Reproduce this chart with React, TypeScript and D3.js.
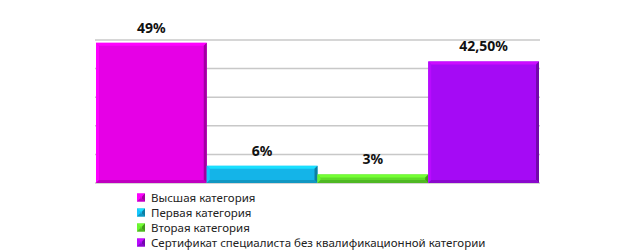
import React from "react";
import * as d3 from "d3";

const categories = ["Высшая категория", "Первая категория", "Вторая категория", "Сертификат специалиста без квалификационной категории"];
const values = [49, 6, 3, 42.5];
const labels = ["49%", "6%", "3%", "42,50%"];
const colors = ["#E600E6", "#14B4E8", "#5EDC2A", "#A50AF5"];
const yTicks = [0, 10, 20, 30, 40, 50];

const W = 621, H = 251;
const plot = { left: 96, right: 539, top: 40, bottom: 183 };

function Bar({ x, y, w, h, color }: { x: number; y: number; w: number; h: number; color: string }) {
  const b = Math.min(3, h / 2);
  const c = d3.color(color)!;
  const light = c.brighter(0.6).formatHex();
  const dark = c.darker(1).formatHex();
  const mid = c.darker(0.5).formatHex();
  return (
    <g>
      <rect x={x} y={y} width={w} height={h} fill={color} />
      <polygon points={`${x},${y} ${x + w},${y} ${x + w - b},${y + b} ${x + b},${y + b}`} fill={light} />
      <polygon points={`${x},${y} ${x + b},${y + b} ${x + b},${y + h - b} ${x},${y + h}`} fill={c.brighter(0.3).formatHex()} />
      <polygon points={`${x + w},${y} ${x + w},${y + h} ${x + w - b},${y + h - b} ${x + w - b},${y + b}`} fill={dark} />
      <polygon points={`${x},${y + h} ${x + w},${y + h} ${x + w - b},${y + h - b} ${x + b},${y + h - b}`} fill={mid} />
    </g>
  );
}

export default function App() {
  const x = d3.scaleBand<string>().domain(categories).range([plot.left, plot.right]).padding(0);
  const y = d3.scaleLinear().domain([0, 50]).range([plot.bottom, plot.top]);
  return (
    <svg width={W} height={H} style={{ position: "absolute", left: 0, top: 0, display: "block" }}
      fontFamily="'Noto Sans', 'Open Sans', sans-serif">
      <rect width={W} height={H} fill="#fff" />
      {yTicks.map((t) => (
        <line key={t} x1={plot.left - 1} x2={plot.right + 1} y1={y(t)} y2={y(t)} stroke="#c8c8c8" strokeWidth={1.5} />
      ))}
      {categories.map((c, i) => {
        const x0 = x(c)!;
        const w = x.bandwidth();
        const yv = y(values[i]);
        return (
          <g key={c}>
            <Bar x={x0} y={yv} w={w} h={plot.bottom - yv} color={colors[i]} />
            <text x={x0 + w / 2} y={yv - 10} textAnchor="middle" fontWeight="bold" fontSize={14} fill="#111">
              {labels[i]}
            </text>
          </g>
        );
      })}
      {categories.map((c, i) => {
        const ly = 197.5 + i * 15;
        return (
          <g key={"l" + c}>
            <Bar x={137} y={ly - 4} w={8} h={8} color={colors[i]} />
            <text x={151} y={ly + 4} fontSize={11.5} fill="#222">{c}</text>
          </g>
        );
      })}
    </svg>
  );
}
